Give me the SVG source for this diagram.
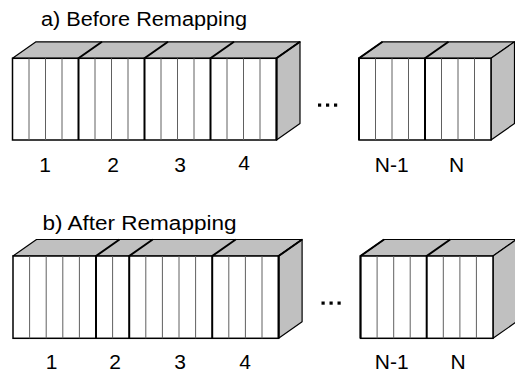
<svg xmlns="http://www.w3.org/2000/svg" width="515" height="376" viewBox="0 0 515 376">
<style>
.bg{fill:#ffffff}
.face{fill:#c0c0c0;stroke:#000;stroke-width:1.2;stroke-linejoin:round}
.front{fill:#ffffff;stroke:#000;stroke-width:1.5}
.slice{stroke:#606060;stroke-width:1}
.div{stroke:#000;stroke-width:2}
.title{font-family:"Liberation Sans",Arial,sans-serif;font-size:20px;fill:#000}
.lbl{font-family:"Liberation Sans",Arial,sans-serif;font-size:21px;fill:#000;text-anchor:middle}
.dot{fill:#000}
</style>
<rect class="bg" x="0" y="0" width="515" height="376"/>

<text class="title" x="41" y="26" textLength="206" lengthAdjust="spacingAndGlyphs">a) Before Remapping</text>

<g id="a-block-left">
  <polygon class="face" points="12.5,58.3 276.5,58.3 300,41.8 36,41.8"/>
  <polygon class="face" points="276.5,58.3 300,41.8 300,123.5 276.5,140"/>
  <rect class="front" x="12.5" y="58.3" width="264" height="81.7"/>
  <g class="slice">
    <line x1="29" y1="58.3" x2="29" y2="140"/><line x1="45.5" y1="58.3" x2="45.5" y2="140"/><line x1="62" y1="58.3" x2="62" y2="140"/>
    <line x1="95" y1="58.3" x2="95" y2="140"/><line x1="111.5" y1="58.3" x2="111.5" y2="140"/><line x1="128" y1="58.3" x2="128" y2="140"/>
    <line x1="161" y1="58.3" x2="161" y2="140"/><line x1="177.5" y1="58.3" x2="177.5" y2="140"/><line x1="194" y1="58.3" x2="194" y2="140"/>
    <line x1="227" y1="58.3" x2="227" y2="140"/><line x1="243.5" y1="58.3" x2="243.5" y2="140"/><line x1="260" y1="58.3" x2="260" y2="140"/>
  </g>
  <g class="div">
    <polyline fill="none" points="78.5,140 78.5,58.3 102,41.8"/>
    <polyline fill="none" points="144.5,140 144.5,58.3 168,41.8"/>
    <polyline fill="none" points="210.5,140 210.5,58.3 234,41.8"/>
    <polyline fill="none" points="276.5,140 276.5,58.3 300,41.8"/>
  </g>
</g>

<g id="a-ellipsis">
  <rect class="dot" x="318" y="103.5" width="3.2" height="3.2"/>
  <rect class="dot" x="326" y="103.5" width="3.2" height="3.2"/>
  <rect class="dot" x="334" y="103.5" width="3.2" height="3.2"/>
</g>

<g id="a-block-right">
  <polygon class="face" points="359,58.3 491,58.3 514.5,41.8 382.5,41.8"/>
  <polygon class="face" points="491,58.3 514.5,41.8 514.5,123.5 491,140"/>
  <rect class="front" x="359" y="58.3" width="132" height="81.7"/>
  <g class="slice">
    <line x1="375.5" y1="58.3" x2="375.5" y2="140"/><line x1="392" y1="58.3" x2="392" y2="140"/><line x1="408.5" y1="58.3" x2="408.5" y2="140"/>
    <line x1="441.5" y1="58.3" x2="441.5" y2="140"/><line x1="458" y1="58.3" x2="458" y2="140"/><line x1="474.5" y1="58.3" x2="474.5" y2="140"/>
  </g>
  <g class="div">
    <polyline fill="none" points="359,140 359,58.3 382.5,41.8"/>
    <polyline fill="none" points="425,140 425,58.3 448.5,41.8"/>
  </g>
</g>

<g id="a-labels">
  <text class="lbl" x="45" y="172">1</text>
  <text class="lbl" x="113" y="172">2</text>
  <text class="lbl" x="180" y="172">3</text>
  <text class="lbl" x="244" y="170">4</text>
  <text class="lbl" x="391.7" y="172">N-1</text>
  <text class="lbl" x="456.7" y="172">N</text>
</g>

<text class="title" x="42.5" y="230" textLength="194" lengthAdjust="spacingAndGlyphs">b) After Remapping</text>

<g id="b-block-left">
  <polygon class="face" points="13,256 278.6,256 302.1,239.5 36.5,239.5"/>
  <polygon class="face" points="278.6,256 302.1,239.5 302.1,321.8 278.6,338.3"/>
  <rect class="front" x="13" y="256" width="265.6" height="82.3"/>
  <g class="slice">
    <line x1="29.6" y1="256" x2="29.6" y2="338.3"/><line x1="46.2" y1="256" x2="46.2" y2="338.3"/><line x1="62.8" y1="256" x2="62.8" y2="338.3"/><line x1="79.4" y1="256" x2="79.4" y2="338.3"/>
    <line x1="112.6" y1="256" x2="112.6" y2="338.3"/>
    <line x1="145.8" y1="256" x2="145.8" y2="338.3"/><line x1="162.4" y1="256" x2="162.4" y2="338.3"/><line x1="179" y1="256" x2="179" y2="338.3"/><line x1="195.6" y1="256" x2="195.6" y2="338.3"/>
    <line x1="228.8" y1="256" x2="228.8" y2="338.3"/><line x1="245.4" y1="256" x2="245.4" y2="338.3"/><line x1="262" y1="256" x2="262" y2="338.3"/>
  </g>
  <g class="div">
    <polyline fill="none" points="96,338.3 96,256 119.5,239.5"/>
    <polyline fill="none" points="129.2,338.3 129.2,256 152.7,239.5"/>
    <polyline fill="none" points="212.2,338.3 212.2,256 235.7,239.5"/>
    <polyline fill="none" points="278.6,338.3 278.6,256 302.1,239.5"/>
  </g>
</g>

<g id="b-ellipsis">
  <rect class="dot" x="321.5" y="301.5" width="3.2" height="3.2"/>
  <rect class="dot" x="329.5" y="301.5" width="3.2" height="3.2"/>
  <rect class="dot" x="337.5" y="301.5" width="3.2" height="3.2"/>
</g>

<g id="b-block-right">
  <polygon class="face" points="360.5,256 493,256 516.5,239.5 384,239.5"/>
  <polygon class="face" points="493,256 516.5,239.5 516.5,321.8 493,338.3"/>
  <rect class="front" x="360.5" y="256" width="132.5" height="82.3"/>
  <g class="slice">
    <line x1="377.1" y1="256" x2="377.1" y2="338.3"/><line x1="393.7" y1="256" x2="393.7" y2="338.3"/><line x1="410.2" y1="256" x2="410.2" y2="338.3"/>
    <line x1="443.3" y1="256" x2="443.3" y2="338.3"/><line x1="459.9" y1="256" x2="459.9" y2="338.3"/><line x1="476.4" y1="256" x2="476.4" y2="338.3"/>
  </g>
  <g class="div">
    <polyline fill="none" points="360.5,338.3 360.5,256 384,239.5"/>
    <polyline fill="none" points="426.7,338.3 426.7,256 450.2,239.5"/>
  </g>
</g>

<g id="b-labels">
  <text class="lbl" x="51.7" y="369">1</text>
  <text class="lbl" x="115" y="369">2</text>
  <text class="lbl" x="180" y="369">3</text>
  <text class="lbl" x="245" y="369">4</text>
  <text class="lbl" x="391.7" y="369">N-1</text>
  <text class="lbl" x="458" y="369">N</text>
</g>
</svg>
